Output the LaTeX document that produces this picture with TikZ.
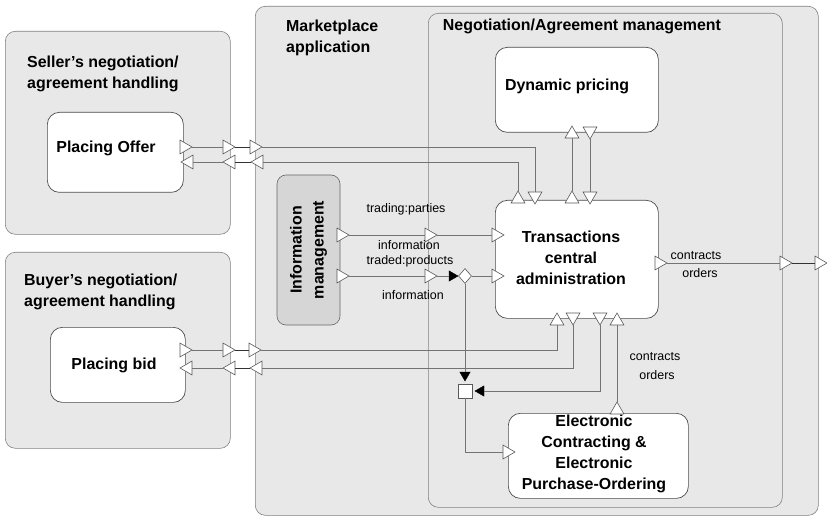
\documentclass[tikz,border=0pt]{standalone}
\usepackage{fontspec}
\setmainfont{Liberation Sans}
\usetikzlibrary{shapes.geometric}

\begin{document}
\begin{tikzpicture}[x=1bp,y=-1bp,
  container/.style={draw=black!50, fill=black!9, rounded corners=10bp, line width=0.6pt, inner sep=0, anchor=north west},
  fbox/.style={draw=black!70, fill=white, rounded corners=12bp, line width=0.7pt, inner sep=0, anchor=north west},
  btxt/.style={inner sep=0, align=center, font=\fontsize{16}{21}\selectfont\bfseries},
  ibox/.style={draw=black!60, fill=black!16, rounded corners=9bp, line width=0.6pt, inner sep=0, align=center,
    font=\fontsize{16}{22}\selectfont\bfseries},
  ttl/.style={font=\fontsize{16}{21}\selectfont\bfseries, inner sep=0, align=left},
  lbl/.style={font=\fontsize{12.5}{15}\selectfont, inner sep=0},
  conn/.style={draw=black!55, line width=0.6pt},
  bridge/.style={draw=black!80, line width=0.7pt},
  tri/.style={regular polygon, regular polygon sides=3, draw=black!65, fill=white, inner sep=0, outer sep=0,
    minimum size=16bp, line width=0.6pt},
  ptU/.style={tri},
  ptD/.style={tri, shape border rotate=180},
  ptL/.style={tri, shape border rotate=90},
  ptR/.style={tri, shape border rotate=-90},
  blk/.style={regular polygon, regular polygon sides=3, draw=black, fill=black, inner sep=0, outer sep=0, minimum size=12bp},
  blkR/.style={blk, shape border rotate=-90},
  blkL/.style={blk, shape border rotate=90},
  blkD/.style={blk, shape border rotate=180},
]
\useasboundingbox (0,0) rectangle (827,518);

% containers
\node[container, minimum width=225bp, minimum height=203bp] (seller) at (5,31) {};
\node[container, minimum width=225bp, minimum height=196bp] (buyer) at (5,252) {};
\node[container, minimum width=563bp, minimum height=509bp] (market) at (255,6) {};
\node[container, minimum width=354bp, minimum height=494bp] (nego) at (428,13) {};

% container titles
\node[ttl, anchor=west] (sellerT) at (27,73.5) {Seller's negotiation/\\agreement handling};
\node[ttl, anchor=west] (buyerT) at (24,292) {Buyer's negotiation/\\agreement handling};
\node[ttl, anchor=west] (marketT) at (286,38) {Marketplace\\application};
\node[ttl] (negoT) at (582,26) {Negotiation/Agreement management};

% function boxes
\node[fbox, minimum width=136bp, minimum height=80bp] (po) at (47,112) {};
\node[fbox, minimum width=135bp, minimum height=75bp] (pb) at (50,327) {};
\node[fbox, minimum width=163bp, minimum height=85bp] (dp) at (495,47) {};
\node[fbox, minimum width=163bp, minimum height=118bp] (tca) at (495,200) {};
\node[fbox, minimum width=180bp, minimum height=85bp] (ec) at (508,413) {};
\node[ibox, rotate=90, minimum width=150bp, minimum height=63bp] (im) at (308.5,250) {Information\\management};

% box texts
\node[btxt] (poT) at (106,148) {Placing Offer};
\node[btxt] (pbT) at (114,365) {Placing bid};
\node[btxt] (dpT) at (567,86) {Dynamic pricing};
\node[btxt] (tcaT) at (571,258) {Transactions\\central\\administration};
\node[btxt] (ecT) at (594,454) {Electronic\\Contracting \&\\Electronic\\Purchase-Ordering};

% ports: seller side
\node[ptR] (s1) at (184,147) {};
\node[ptR] (s2) at (227,147) {};
\node[ptR] (s3) at (254,147) {};
\node[ptL] (s4) at (259,162) {};
\node[ptL] (s5) at (231,162) {};
\node[ptL] (s6) at (189,162) {};
% ports: buyer side
\node[ptR] (b1) at (184,350) {};
\node[ptR] (b2) at (227,350) {};
\node[ptR] (b3) at (253,350) {};
\node[ptL] (b4) at (258,368) {};
\node[ptL] (b5) at (231,368) {};
\node[ptL] (b6) at (188,368) {};
% ports on transactions administration
\node[ptU] (t2) at (518,199) {};
\node[ptD] (t1) at (535,196) {};
\node[ptU] (ta) at (572,199) {};
\node[ptD] (tb) at (590,196) {};
\node[ptR] (t5) at (496,235) {};
\node[ptR] (t6) at (496,276) {};
\node[ptU] (t3) at (557,321) {};
\node[ptD] (t4) at (573,317) {};
\node[ptD] (t7) at (600,317) {};
\node[ptU] (t8) at (617,321) {};
\node[ptR] (t9) at (659,263) {};
% ports on dynamic pricing
\node[ptU] (da) at (572,134) {};
\node[ptD] (db) at (590,131) {};
% information management and boundaries
\node[ptR] (i1) at (341,235) {};
\node[ptR] (n1) at (429,235) {};
\node[ptR] (i2) at (341,276) {};
\node[ptR] (n2) at (429,276) {};
\node[ptR] (n3) at (784,263) {};
\node[ptR] (m1) at (819,263) {};
% electronic contracting ports
\node[ptU] (e1) at (617,410) {};
\node[ptR] (e2) at (507,452) {};
% branching and joining
\node[blkR] (k1) at (452,276) {};
\node[diamond, draw=black!65, fill=white, inner sep=0, minimum width=13bp, minimum height=15bp, line width=0.6pt] (dia) at (465,276) {};
\node[blkD] (k2) at (465,375) {};
\node[draw=black!65, fill=white, inner sep=0, minimum size=14bp, line width=0.6pt] (sq) at (465,391) {};
\node[blkL] (k3) at (481,391) {};

% seller connectors
\draw[conn] (s1) -- (s2);
\draw[bridge] (s2) -- (s3);
\draw[conn] (s3) -| (t1);
\draw[conn] (t2) |- (s4);
\draw[bridge] (s4) -- (s5);
\draw[conn] (s5) -- (s6);
% buyer connectors
\draw[conn] (b1) -- (b2);
\draw[bridge] (b2) -- (b3);
\draw[conn] (b3) -| (t3);
\draw[conn] (t4) |- (b4);
\draw[bridge] (b4) -- (b5);
\draw[conn] (b5) -- (b6);
% dynamic pricing
\draw[conn] (ta) -- (da);
\draw[conn] (db) -- (tb);
% information management
\draw[conn] (i1) -- (n1);
\draw[conn] (n1) -- (t5);
\draw[conn] (i2) -- (n2);
\draw[conn] (n2) -- (k1);
\draw[conn] (dia) -- (t6);
\draw[conn] (dia) -- (k2);
\draw[conn] (t7) |- (k3);
\draw[conn] (sq) |- (e2);
\draw[conn] (e1) -- (t8);
% contracts / orders out
\draw[conn] (t9) -- (n3);
\draw[bridge] (n3) -- (m1);

% connector labels
\node[lbl] (l1) at (406,209) {trading:parties};
\node[lbl] (l2) at (409,245) {information};
\node[lbl] (l3) at (410,261) {traded:products};
\node[lbl] (l4) at (413,295) {information};
\node[lbl] (l5) at (696,256) {contracts};
\node[lbl] (l6) at (700,273) {orders};
\node[lbl] (l7) at (655,357) {contracts};
\node[lbl] (l8) at (657,375) {orders};
\end{tikzpicture}
\end{document}
